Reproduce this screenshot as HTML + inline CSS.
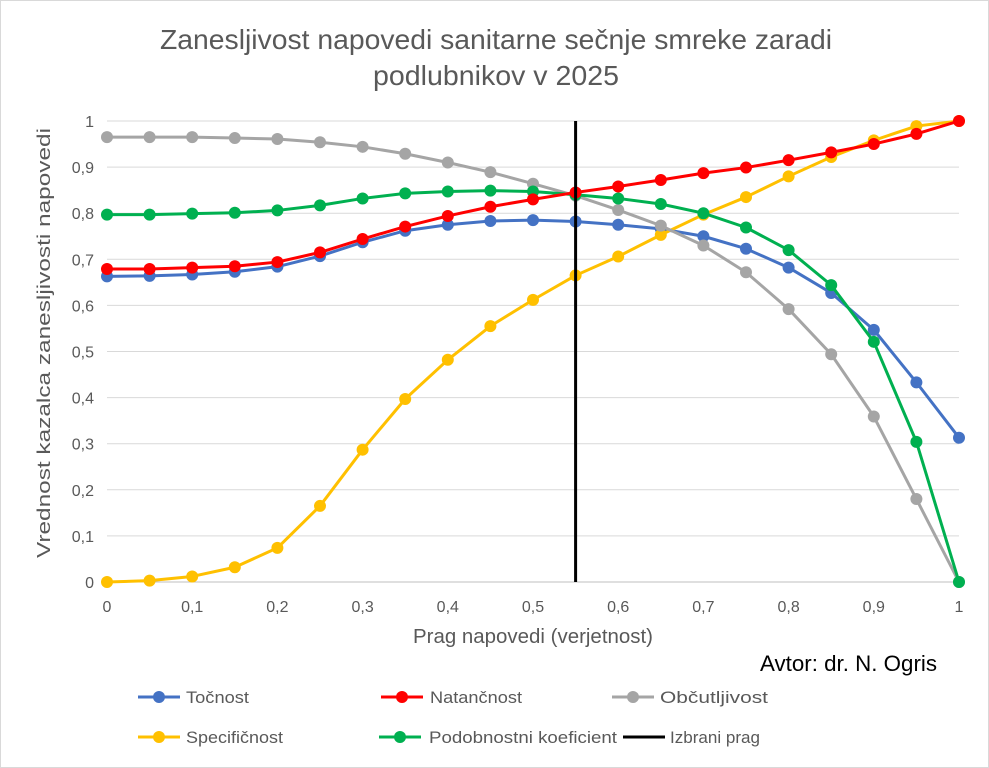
<!DOCTYPE html>
<html><head><meta charset="utf-8"><style>
body{margin:0;background:#fff;}
svg{display:block;font-family:"Liberation Sans",sans-serif;}
</style></head><body>
<svg id="s" width="989" height="768" viewBox="0 0 989 768" xmlns="http://www.w3.org/2000/svg">
<rect x="0.5" y="0.5" width="988" height="767" fill="#fff" stroke="#d9d9d9"/>
<text x="496" y="49" font-size="28" fill="#595959" text-anchor="middle" textLength="672" lengthAdjust="spacingAndGlyphs">Zanesljivost napovedi sanitarne sečnje smreke zaradi</text>
<text x="496" y="85" font-size="28" fill="#595959" text-anchor="middle" textLength="246" lengthAdjust="spacingAndGlyphs">podlubnikov v 2025</text>
<g id="grid"></g>
<g id="series"></g>
<line x1="575.6" y1="121" x2="575.6" y2="582" stroke="#000" stroke-width="3"/>
<text x="533" y="643" font-size="20" fill="#595959" text-anchor="middle" textLength="240" lengthAdjust="spacingAndGlyphs">Prag napovedi (verjetnost)</text>
<text transform="translate(50,343) rotate(-90)" font-size="18" fill="#595959" text-anchor="middle" textLength="430" lengthAdjust="spacingAndGlyphs">Vrednost kazalca zanesljivosti napovedi</text>
<text x="760" y="671" font-size="22" fill="#000" textLength="177" lengthAdjust="spacingAndGlyphs">Avtor: dr. N. Ogris</text>
<g id="legend" font-size="17" fill="#595959"></g>
</svg>
<script>
var ns="http://www.w3.org/2000/svg";
function el(t,a,p){var e=document.createElementNS(ns,t);for(var k in a)e.setAttribute(k,a[k]);p.appendChild(e);return e;}
var X=function(v){return 107+v*852;},Y=function(v){return 582-v*461;};
var g=document.getElementById('grid');
for(var i=0;i<=10;i++){var y=Y(i/10);
 if(i>0)el('line',{x1:107,x2:959,y1:y,y2:y,stroke:'#d9d9d9','stroke-width':1},g);
 var t=el('text',{x:94,y:y+6,'font-size':16,fill:'#595959','text-anchor':'end'},g);t.textContent=(i==10?'1':i==0?'0':'0,'+i);}
el('line',{x1:107,x2:959,y1:582,y2:582,stroke:'#bfbfbf','stroke-width':1},g);
for(var i=0;i<=10;i++){var t=el('text',{x:X(i/10),y:612,'font-size':16,fill:'#595959','text-anchor':'middle'},g);t.textContent=(i==10?'1':i==0?'0':'0,'+i);}
var S=[
['#4472c4',[0.663,0.664,0.667,0.673,0.684,0.707,0.737,0.762,0.775,0.783,0.785,0.782,0.775,0.766,0.75,0.723,0.682,0.627,0.547,0.433,0.313]],
['#ffc000',[0,0.003,0.012,0.032,0.074,0.165,0.287,0.397,0.482,0.555,0.612,0.665,0.706,0.753,0.797,0.835,0.88,0.922,0.958,0.989,1.0]],
['#a5a5a5',[0.965,0.965,0.965,0.963,0.961,0.954,0.944,0.929,0.91,0.889,0.864,0.838,0.807,0.773,0.73,0.672,0.592,0.494,0.359,0.18,0]],
['#00b050',[0.797,0.797,0.799,0.801,0.806,0.817,0.832,0.843,0.847,0.849,0.847,0.84,0.832,0.82,0.8,0.769,0.72,0.644,0.521,0.304,0]],
['#ff0000',[0.679,0.679,0.682,0.685,0.694,0.715,0.744,0.771,0.794,0.814,0.83,0.845,0.858,0.872,0.887,0.899,0.915,0.932,0.95,0.972,1.0]]
];
var sg=document.getElementById('series');
S.forEach(function(s){var d='';s[1].forEach(function(v,i){d+=(i?'L':'M')+X(i*0.05)+' '+Y(v);});
 el('path',{d:d,fill:'none',stroke:s[0],'stroke-width':3,'stroke-linejoin':'round'},sg);
 s[1].forEach(function(v,i){el('circle',{cx:X(i*0.05),cy:Y(v),r:6,fill:s[0]},sg);});});
var L=document.getElementById('legend');
var items=[[138,697,'#4472c4','Točnost',1,186,63],[381,697,'#ff0000','Natančnost',1,430,92],[612,697,'#a5a5a5','Občutljivost',1,660,108],
[138,737,'#ffc000','Specifičnost',1,186,97],[379,737,'#00b050','Podobnostni koeficient',1,429,188],[623,737,'#000','Izbrani prag',0,670,90]];
items.forEach(function(it){el('line',{x1:it[0],x2:it[0]+42,y1:it[1],y2:it[1],stroke:it[2],'stroke-width':3},L);
 if(it[4])el('circle',{cx:it[0]+21,cy:it[1],r:6,fill:it[2]},L);
 var t=el('text',{x:it[5],y:it[1]+6,textLength:it[6],lengthAdjust:'spacingAndGlyphs'},L);t.textContent=it[3];});
</script>
</body></html>
